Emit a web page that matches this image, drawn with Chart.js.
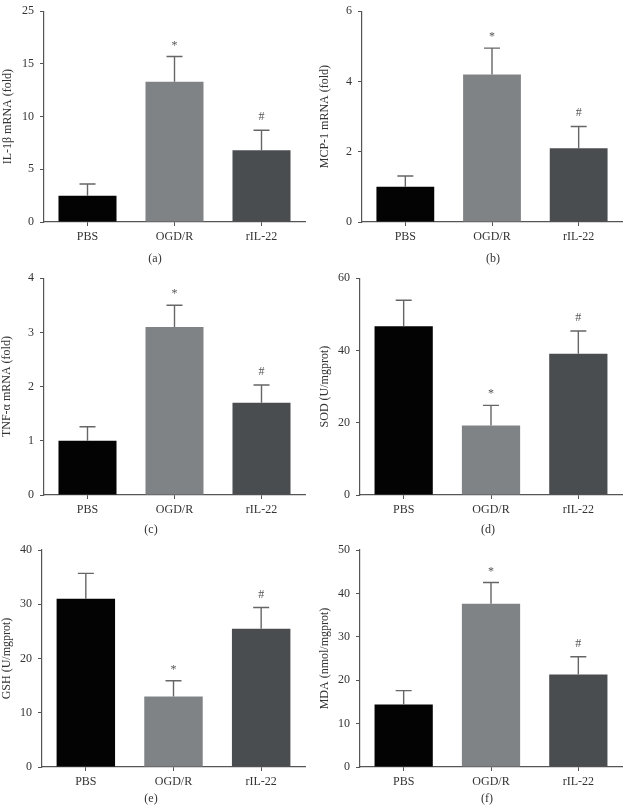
<!DOCTYPE html>
<html>
<head>
<meta charset="utf-8">
<script src="https://cdn.jsdelivr.net/npm/chart.js@4.4.1/dist/chart.umd.min.js"></script>
<style>
  body { margin: 0; background: #fff; }
  #fig { position: relative; width: 623px; height: 809px; overflow: hidden; background: #fff; }
  .panel { position: absolute; }
  .tag { position: absolute; transform: translate(-50%, -50%); font: 12px 'Liberation Serif', 'Times New Roman', serif; color: #333; white-space: nowrap; }
</style>
</head>
<body>
<div id="fig"></div>
<script>
// groups and bar colours, shared by all six panels
const groups = ['PBS', 'OGD/R', 'rIL-22'];
const barColors = ['#030303', '#808386', '#4a4d50'];
const signif = ['', '*', '#'];

// (a) IL-1beta mRNA -- note the original axis labels its top tick "25" (it sits at 20)
const il1bMean = [2.5, 13.3, 6.8];
const il1bErr = [1.1, 2.4, 1.9];
const il1bTicks = ['0', '5', '10', '15', '25'];

// (b) MCP-1 mRNA
const mcp1Mean = [1.0, 4.2, 2.1];
const mcp1Err = [0.31, 0.75, 0.62];
const mcp1Ticks = ['0', '2', '4', '6'];

// (c) TNF-alpha mRNA
const tnfMean = [1.0, 3.1, 1.7];
const tnfErr = [0.26, 0.4, 0.33];
const tnfTicks = ['0', '1', '2', '3', '4'];

// (d) SOD
const sodMean = [46.7, 19.2, 39.1];
const sodErr = [7.2, 5.6, 6.3];
const sodTicks = ['0', '20', '40', '60'];

// (e) GSH
const gshMean = [31.0, 13.0, 25.5];
const gshErr = [4.7, 2.9, 3.9];
const gshTicks = ['0', '10', '20', '30', '40'];

// (f) MDA
const mdaMean = [14.4, 37.6, 21.3];
const mdaErr = [3.2, 4.9, 4.1];
const mdaTicks = ['0', '10', '20', '30', '40', '50'];

const serif = "'Liberation Serif', 'Times New Roman', serif";
const axisColor = '#555';
const textColor = '#333';

// draws the upward error bars and the */# marks above them
const errorBars = {
  id: 'errorBars',
  afterDatasetsDraw(chart) {
    const ctx = chart.ctx;
    const y = chart.scales.y;
    const ds = chart.data.datasets[0];
    chart.getDatasetMeta(0).data.forEach((bar, i) => {
      const base = y.getPixelForValue(ds.data[i]);
      const tip = y.getPixelForValue(ds.data[i] + ds.errors[i]);
      ctx.save();
      ctx.strokeStyle = '#666';
      ctx.lineWidth = 1.4;
      ctx.beginPath();
      ctx.moveTo(bar.x, base);
      ctx.lineTo(bar.x, tip);
      ctx.moveTo(bar.x - 8, tip);
      ctx.lineTo(bar.x + 8, tip);
      ctx.stroke();
      if (ds.marks[i]) {
        ctx.fillStyle = '#555';
        ctx.font = '12px ' + serif;
        ctx.textAlign = 'center';
        ctx.textBaseline = 'alphabetic';
        ctx.fillText(ds.marks[i], bar.x, tip - (ds.marks[i] === '*' ? 8 : 10));
      }
      ctx.restore();
    });
  }
};

const fig = document.getElementById('fig');

function makePanel(p) {
  const wrap = document.createElement('div');
  wrap.className = 'panel';
  wrap.style.left = p.left + 'px';
  wrap.style.top = p.top + 'px';
  const canvas = document.createElement('canvas');
  canvas.width = p.width;
  canvas.height = p.height;
  wrap.appendChild(canvas);
  fig.appendChild(wrap);

  const tag = document.createElement('div');
  tag.className = 'tag';
  tag.textContent = p.tag;
  tag.style.left = p.tagX + 'px';
  tag.style.top = p.tagY + 'px';
  fig.appendChild(tag);

  new Chart(canvas, {
    type: 'bar',
    data: {
      labels: groups,
      datasets: [{
        data: p.means,
        errors: p.errors,
        marks: signif,
        backgroundColor: barColors,
        borderWidth: 0,
        barPercentage: 0.667,
        categoryPercentage: 1
      }]
    },
    options: {
      responsive: false,
      animation: false,
      layout: { padding: { top: p.padTop, right: p.padRight, left: 0, bottom: 0 } },
      plugins: { legend: { display: false }, tooltip: { enabled: false } },
      scales: {
        x: {
          grid: { offset: false, drawOnChartArea: false, tickLength: 4, color: axisColor },
          border: { color: axisColor, width: 1.2 },
          ticks: { font: { family: serif, size: 12 }, color: textColor, padding: 4 },
          afterFit: s => { s.height = p.xHeight; }
        },
        y: {
          min: 0,
          max: p.step * (p.ticks.length - 1),
          ticks: {
            stepSize: p.step,
            callback: (v, i) => p.ticks[i],
            font: { family: serif, size: 12 },
            color: textColor,
            padding: 6
          },
          grid: { drawOnChartArea: false, tickLength: 4, color: axisColor },
          border: { color: axisColor, width: 1.2 },
          title: {
            display: true,
            text: p.title,
            font: { family: serif, size: 12 },
            color: textColor,
            padding: { top: p.titlePad, bottom: 0 }
          },
          afterFit: s => { s.width = p.yWidth; }
        }
      }
    },
    plugins: [errorBars]
  });
}

// left column
makePanel({ left: 0, top: -2, width: 310, height: 267, padTop: 7, padRight: 5, xHeight: 43, yWidth: 44, titlePad: 1,
  means: il1bMean, errors: il1bErr, ticks: il1bTicks, step: 5, title: 'IL-1β mRNA (fold)', tag: '(a)', tagX: 155, tagY: 258 });
makePanel({ left: 0, top: 265, width: 310, height: 270, padTop: 12, padRight: 5, xHeight: 40, yWidth: 44, titlePad: 0,
  means: tnfMean, errors: tnfErr, ticks: tnfTicks, step: 1, title: 'TNF-α mRNA (fold)', tag: '(c)', tagX: 151, tagY: 529 });
makePanel({ left: 0, top: 535, width: 310, height: 274, padTop: 15, padRight: 5, xHeight: 42, yWidth: 42, titlePad: 0,
  means: gshMean, errors: gshErr, ticks: gshTicks, step: 10, title: 'GSH (U/mgprot)', tag: '(e)', tagX: 151, tagY: 798 });

// right column
makePanel({ left: 310, top: -2, width: 313, height: 267, padTop: 7, padRight: 1, xHeight: 43, yWidth: 52, titlePad: 8,
  means: mcp1Mean, errors: mcp1Err, ticks: mcp1Ticks, step: 2, title: 'MCP-1 mRNA (fold)', tag: '(b)', tagX: 493, tagY: 258 });
makePanel({ left: 310, top: 265, width: 313, height: 270, padTop: 12, padRight: 1, xHeight: 40, yWidth: 50, titlePad: 8,
  means: sodMean, errors: sodErr, ticks: sodTicks, step: 20, title: 'SOD (U/mgprot)', tag: '(d)', tagX: 488, tagY: 529 });
makePanel({ left: 310, top: 535, width: 313, height: 274, padTop: 15, padRight: 1, xHeight: 42, yWidth: 50, titlePad: 8,
  means: mdaMean, errors: mdaErr, ticks: mdaTicks, step: 10, title: 'MDA (nmol/mgprot)', tag: '(f)', tagX: 487, tagY: 798 });
</script>
</body>
</html>
